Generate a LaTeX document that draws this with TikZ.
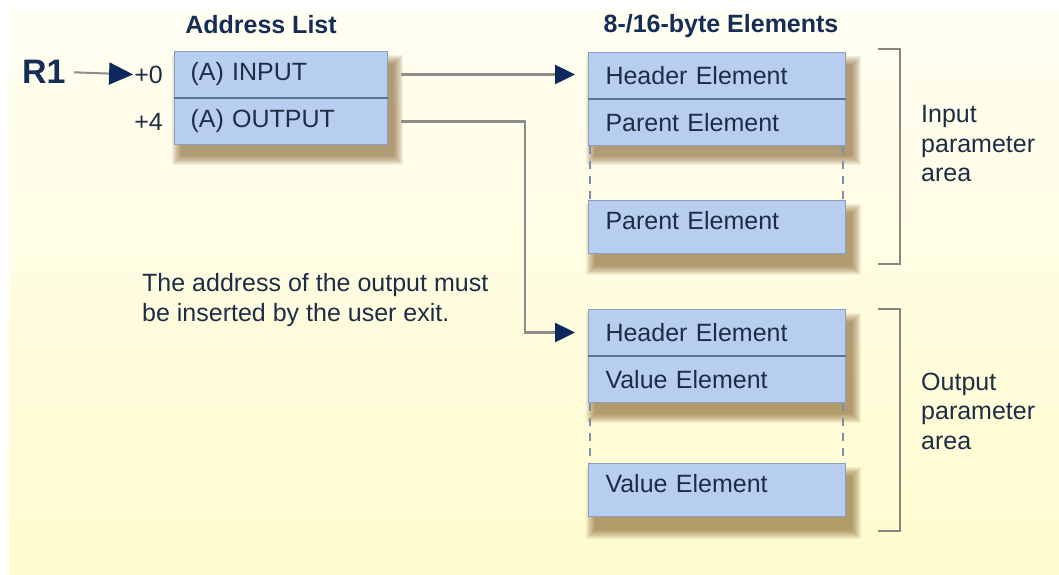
\documentclass[tikz,border=0pt]{standalone}
\usepackage{fontspec}
\setmainfont{Liberation Sans}
\usetikzlibrary{positioning,arrows.meta}

\definecolor{papertop}{RGB}{255,254,242}
\definecolor{paper}{RGB}{255,251,206}
\definecolor{cellfill}{RGB}{183,206,240}
\definecolor{cellline}{RGB}{140,158,186}
\definecolor{divline}{RGB}{92,116,148}
\definecolor{ink}{RGB}{30,45,70}
\definecolor{navy}{RGB}{22,45,88}
\definecolor{headblue}{RGB}{12,40,92}
\definecolor{linkgray}{RGB}{140,140,136}
\definecolor{bracegray}{RGB}{135,135,128}
\definecolor{shadowtan}{RGB}{120,85,30}

% soft shadow below and right of a box
\newcommand\boxshadow[4]{%
  \foreach \r in {1,...,10}
    \fill[shadowtan, opacity=0.08] (#1+7-10+\r, #2+13-10+\r) rectangle (#3+7+10-\r, #4+13+10-\r);}

\tikzset{
  cell/.style={draw=cellline, line width=1pt, fill=cellfill, anchor=north west,
    inner ysep=0pt, minimum height=46pt, align=left, text=ink},
  addrcell/.style={cell, inner xsep=16pt, text width=181pt},
  elemcell/.style={cell, inner xsep=17pt, text width=223pt},
  lastcell/.style={elemcell, minimum height=53pt, text depth=14pt},
  link/.style={draw=linkgray, line width=2.5pt,
    -{Triangle[length=20pt,width=19pt,color=headblue]}},
  divider/.style={draw=divline, line width=2pt},
  gap/.style={draw=divline!80, line width=2pt, dash pattern=on 8pt off 7pt},
  brace/.style={draw=bracegray, line width=2.5pt},
  title/.style={font=\fontsize{25pt}{29.5pt}\selectfont\bfseries, text=navy, inner sep=0pt},
  plain/.style={text=ink, inner sep=0pt, align=left},
}

\begin{document}
\begin{tikzpicture}[x=1pt,y=-1pt,font=\fontsize{25pt}{29.5pt}\selectfont]
  \useasboundingbox (0,0) rectangle (1059,574);
  \fill[white] (0,0) rectangle (1059,574);
  \shade[top color=papertop, bottom color=paper] (9,10) rectangle (1059,574);

  \boxshadow{174}{51}{387}{143}
  \boxshadow{588}{52}{845}{143}
  \boxshadow{588}{200}{845}{253}
  \boxshadow{588}{309}{845}{401}
  \boxshadow{588}{463}{845}{517}

  % address list
  \node[title] (addrtitle) at (261,25) {Address List};
  \node[addrcell] (in) at (174,51) {(A) INPUT};
  \node[addrcell] (out) at (in.south west) {(A) OUTPUT};
  \draw[divider] (in.south west) -- (in.south east);
  \node[plain, left=11pt of in] (off0) {+0};
  \node[plain, left=11pt of out] (off4) {+4};
  \node[title, font=\fontsize{34pt}{40pt}\selectfont\bfseries, anchor=west] (r1) at (22,72) {R1};
  \draw[draw=linkgray, line width=2pt, shorten <=8pt, shorten >=1pt,
    -{Triangle[length=24pt,width=22pt,color=headblue]}] (r1.east) -- (off0.west);

  % elements
  \node[title] (elemtitle) at (721,26) {8-/16-byte Elements};
  \node[elemcell] (hdrA) at (588,52) {Header Element};
  \node[elemcell] (parA) at (hdrA.south west) {Parent Element};
  \draw[divider] (hdrA.south west) -- (hdrA.south east);
  \node[lastcell] (endA) at (588,200) {Parent Element};
  \draw[gap] ([xshift=2pt]parA.south west) -- ([xshift=2pt]endA.north west);
  \draw[gap] ([xshift=-3pt]parA.south east) -- ([xshift=-3pt]endA.north east);

  \node[elemcell] (hdrB) at (588,309) {Header Element};
  \node[elemcell] (valB) at (hdrB.south west) {Value Element};
  \draw[divider] (hdrB.south west) -- (hdrB.south east);
  \node[lastcell] (endB) at (588,463) {Value Element};
  \draw[gap] ([xshift=2pt]valB.south west) -- ([xshift=2pt]endB.north west);
  \draw[gap] ([xshift=-3pt]valB.south east) -- ([xshift=-3pt]endB.north east);

  % pointers
  \coordinate (turn) at (525,0);
  \draw[link, shorten <=13pt, shorten >=13pt] (in.east) -- (in.east -| hdrA.west);
  \draw[link, shorten <=13pt, shorten >=13pt] (out.east) -| (turn |- hdrB.west) -- (hdrB.west);

  \node[plain, anchor=west] (note) at (142,300) {The address of the output must\\be inserted by the user exit.};

  % areas
  \draw[brace] (878,49) -- (900,49) -- (900,264) -- (878,264);
  \draw[brace] (878,309) -- (900,309) -- (900,531) -- (878,531);
  \node[plain, anchor=west] (inarea) at (921,144) {Input\\parameter\\area};
  \node[plain, anchor=west] (outarea) at (921,411) {Output\\parameter\\area};
\end{tikzpicture}
\end{document}
